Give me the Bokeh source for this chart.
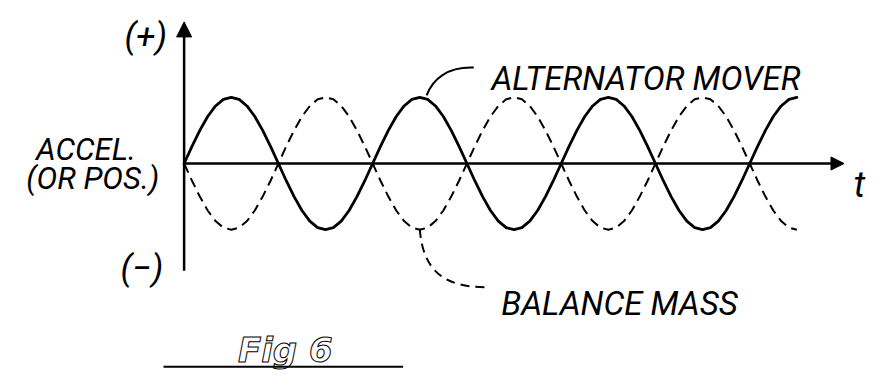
from bokeh.plotting import figure
from bokeh.models import Range1d, Arrow, NormalHead
from bokeh.core.properties import value
from bokeh.embed import file_html
from bokeh.resources import INLINE

# ---- data (phase in degrees, acceleration in amplitude units) ----
phase_deg = list(range(0, 1171, 15))
alternator_mover = [
    0.00, 0.26, 0.50, 0.71, 0.87, 0.97, 1.00, 0.97, 0.87, 0.71, 0.50, 0.26,
    0.00, -0.26, -0.50, -0.71, -0.87, -0.97, -1.00, -0.97, -0.87, -0.71, -0.50, -0.26,
    0.00, 0.26, 0.50, 0.71, 0.87, 0.97, 1.00, 0.97, 0.87, 0.71, 0.50, 0.26,
    0.00, -0.26, -0.50, -0.71, -0.87, -0.97, -1.00, -0.97, -0.87, -0.71, -0.50, -0.26,
    0.00, 0.26, 0.50, 0.71, 0.87, 0.97, 1.00, 0.97, 0.87, 0.71, 0.50, 0.26,
    0.00, -0.26, -0.50, -0.71, -0.87, -0.97, -1.00, -0.97, -0.87, -0.71, -0.50, -0.26,
    0.00, 0.26, 0.50, 0.71, 0.87, 0.97, 1.00,
]
balance_mass = [
    0.00, -0.26, -0.50, -0.71, -0.87, -0.97, -1.00, -0.97, -0.87, -0.71, -0.50, -0.26,
    0.00, 0.26, 0.50, 0.71, 0.87, 0.97, 1.00, 0.97, 0.87, 0.71, 0.50, 0.26,
    0.00, -0.26, -0.50, -0.71, -0.87, -0.97, -1.00, -0.97, -0.87, -0.71, -0.50, -0.26,
    0.00, 0.26, 0.50, 0.71, 0.87, 0.97, 1.00, 0.97, 0.87, 0.71, 0.50, 0.26,
    0.00, -0.26, -0.50, -0.71, -0.87, -0.97, -1.00, -0.97, -0.87, -0.71, -0.50, -0.26,
    0.00, 0.26, 0.50, 0.71, 0.87, 0.97, 1.00, 0.97, 0.87, 0.71, 0.50, 0.26,
    0.00, -0.26, -0.50, -0.71, -0.87, -0.97, -1.00,
]
series_labels = ["ALTERNATOR MOVER", "BALANCE MASS"]
y_axis_label = ["ACCEL.", "(OR POS.)"]
sign_labels = ["(+)", "(\u2212)"]
x_axis_label = "t"
figure_label = "Fig 6"
t_axis_end = 1260      # where the time arrow ends (deg)
y_axis_top = 2.14      # positive arrow tip
y_axis_bottom = -1.62  # bottom of the vertical axis

# ---- layout helpers: reference pixel -> data coordinates ----
REF_W, REF_H = 886, 389
PX_PER_DEG = 192 / 360
PX_PER_UNIT = 69
ORIGIN_X, ORIGIN_Y = 187, 170

def dx(px):
    return (px - ORIGIN_X) / PX_PER_DEG

def dy(py):
    return (ORIGIN_Y - py) / PX_PER_UNIT

W, H = 870, 373
p = figure(width=W, height=H, output_backend="svg", toolbar_location=None,
           x_range=Range1d(dx(0), dx(REF_W)), y_range=Range1d(dy(REF_H), dy(0)),
           x_axis_location=None, y_axis_location=None, min_border=0)
p.grid.visible = False
p.outline_line_color = None
p.background_fill_color = "white"
p.border_fill_color = "white"

# axes with arrows
p.add_layout(Arrow(end=NormalHead(size=15, fill_color="black", line_color="black", line_width=1),
                   x_start=0, y_start=y_axis_bottom, x_end=0, y_end=y_axis_top,
                   line_width=2.5, line_color="black"))
p.add_layout(Arrow(end=NormalHead(size=13, fill_color="black", line_color="black", line_width=1),
                   x_start=0, y_start=0, x_end=t_axis_end, y_end=0,
                   line_width=2.5, line_color="black"))

# curves
p.line(phase_deg, alternator_mover, line_width=2.8, line_color="black", line_join="round", line_cap="round")
p.line(phase_deg, balance_mass, line_width=2.0, line_color="black", line_dash="10 6", line_join="round")

# leader lines
p.bezier(x0=[dx(482)], y0=[dy(70)], x1=[dx(434)], y1=[dy(99)],
         cx0=[dx(455)], cy0=[dy(69)], cx1=[dx(440)], cy1=[dy(82)],
         line_width=2, line_color="black")
p.bezier(x0=[dx(427)], y0=[dy(238)], x1=[dx(494)], y1=[dy(299)],
         cx0=[dx(430)], cy0=[dy(282)], cx1=[dx(452)], cy1=[dy(299)],
         line_width=2, line_color="black", line_dash="9 6")

FONT = value("Roboto")

def txt(x, y, s, size, align="left", style="italic", font=FONT, **kw):
    p.text(x=[dx(x)], y=[dy(y)], text=[s], text_font=font, text_font_style=style,
           text_font_size=size, text_align=align, text_baseline="alphabetic",
           text_color=kw.pop("color", "black"), **kw)

txt(148, 38, sign_labels[0], "35px", align="center")
txt(144, 279, sign_labels[1], "35px", align="center")
txt(87, 155, y_axis_label[0], "31px", align="center")
txt(94, 186, y_axis_label[1], "31px", align="center")
txt(500, 81, series_labels[0], "33px")
txt(510, 316, series_labels[1], "33px")
txt(869, 192, x_axis_label, "36px")

# figure label
try:
    p.text(x=[dx(290)], y=[dy(365)], text=[figure_label], text_font=value("DejaVu Sans"),
           text_font_style="bold italic", text_font_size="34px", text_align="center",
           text_baseline="alphabetic", text_color="white", text_outline_color="black")
except Exception:
    txt(290, 365, figure_label, "34px", align="center", style="bold italic",
        font=value("DejaVu Sans"))
p.segment(x0=[dx(166)], y0=[dy(382)], x1=[dx(410)], y1=[dy(382)], line_width=2, line_color="black")

open("out.html", "w").write(file_html(p, INLINE))
